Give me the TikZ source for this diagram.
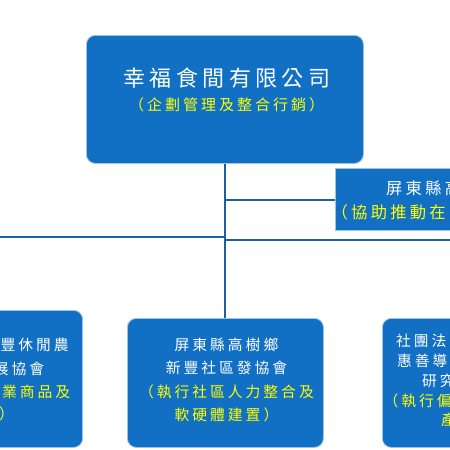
\documentclass[tikz,border=0pt]{standalone}
\usepackage{fontspec}
\newfontfamily\cjkfont[LetterSpace=20]{Noto Sans CJK TC}
\definecolor{boxblue}{RGB}{17,112,196}
\definecolor{edgeblue}{RGB}{157,195,230}
\definecolor{lineblue}{RGB}{31,95,168}
\definecolor{ylw}{RGB}{255,255,0}
\begin{document}
\begin{tikzpicture}[x=1pt,y=-1pt,
  box/.style={draw=edgeblue, line width=0.8pt, fill=boxblue, rounded corners=9pt},
  sqbox/.style={draw=edgeblue, line width=0.8pt, fill=boxblue},
  link/.style={draw=lineblue, line width=2pt},
  bodytxt/.style={inner sep=0pt, font=\cjkfont\fontsize{14.8}{23.3}\selectfont},
  wtxt/.style={bodytxt, text=white},
  ytxt/.style={bodytxt, text=ylw},
  rtxt/.style={inner sep=0pt, font=\cjkfont\fontsize{16.3}{20}\selectfont}
]
\useasboundingbox (0,0) rectangle (450,450);
\clip (0,0) rectangle (450,450);
\fill[white] (0,0) rectangle (450,450);

% boxes
\node[box, minimum width=277pt, minimum height=128pt, anchor=north west] (top) at (86,35) {};
\node[sqbox, minimum width=150pt, minimum height=62pt, anchor=north west] (rtop) at (335,168) {};
\node[box, minimum width=196pt, minimum height=137pt, anchor=north east] (left) at (83,310) {};
\node[box, minimum width=196pt, minimum height=129pt, anchor=north west] (mid) at (127,318) {};
\node[box, minimum width=196pt, minimum height=129pt, anchor=north west] (right) at (382,318) {};

% connectors
\coordinate (j1) at (225,200);
\coordinate (j2) at (225,237);
\coordinate (j3) at (225,240);
\coordinate (lend) at (0,237);
\coordinate (rend) at (450,240);
\draw[link] (top.south) -- (top.south |- mid.north);
\draw[link] (j1) -- (j1 -| rtop.west);
\draw[link] (lend) -- (j2);
\draw[link] (j3) -- (rend);

% top box text
\node[inner sep=0pt, text=white, font=\cjkfont\fontsize{22}{26}\selectfont] (t1) at (227,78) {幸福食間有限公司};
\node[inner sep=0pt, text=ylw, font=\cjkfont\fontsize{15}{18}\selectfont] (t2) at (226.5,105) {（企劃管理及整合行銷）};

% right top box text
\node[rtxt, text=white, anchor=west] (r1) at (386,188) {屏東縣高};
\node[rtxt, text=ylw, anchor=west] (r2) at (331.5,212) {（協助推動在};

% left box text
\node[wtxt, anchor=west] (l1) at (0.5,345) {豐休閒農};
\node[wtxt, anchor=west] (l2) at (-6.4,369) {展協會};
\node[ytxt, anchor=west] (l3) at (2,392) {業商品及};
\node[ytxt, anchor=west] (l4) at (-1,414) {）};

% middle box text
\node[bodytxt, align=center] (m) at (226.5,380) {\textcolor{white}{屏東縣高樹鄉}\\\textcolor{white}{新豐社區發協會}\\\textcolor{ylw}{（執行社區人力整合及}\\\textcolor{ylw}{軟硬體建置）}};

% right box text
\node[wtxt, anchor=west] (g1) at (396,341) {社團法};
\node[wtxt, anchor=west] (g2) at (397,361) {惠善導};
\node[wtxt, anchor=west] (g3) at (422,381) {研究};
\node[ytxt, anchor=west] (g4) at (383.5,401) {（執行偏};
\node[ytxt, anchor=west] (g5) at (441,420) {產};
\end{tikzpicture}
\end{document}
